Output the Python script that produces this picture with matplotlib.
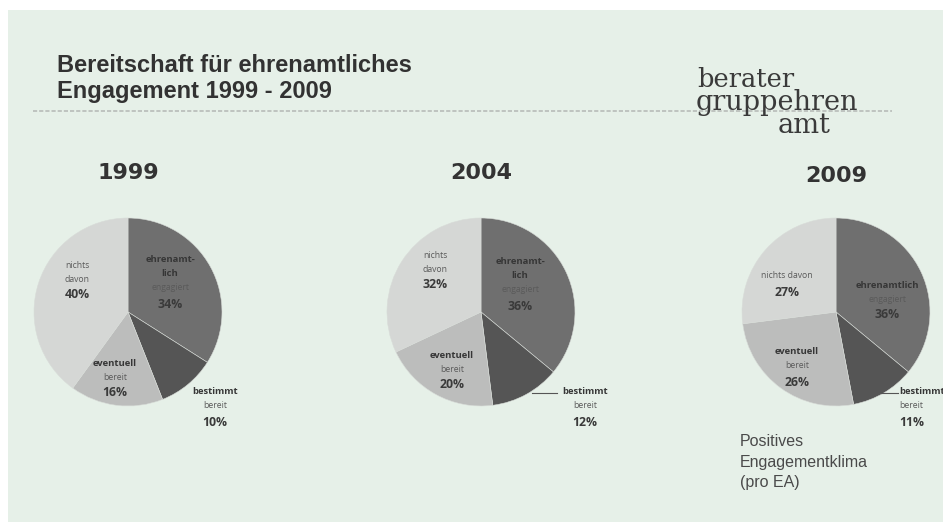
import matplotlib
matplotlib.use("Agg")
import matplotlib.pyplot as plt
from matplotlib.patches import Rectangle

# ----------------------------------------------------------
# Daten
# ----------------------------------------------------------
years = ['1999', '2004', '2009']
categories = ['ehrenamtlich engagiert', 'bestimmt bereit', 'eventuell bereit', 'nichts davon']
values_1999 = [34, 10, 16, 40]
values_2004 = [36, 12, 20, 32]
values_2009 = [36, 11, 26, 27]
all_values = [values_1999, values_2004, values_2009]

wedge_colors = ['#6f6f6f', '#555555', '#bcbdbc', '#d5d7d5']

# Beschriftung der Segmente (Zeilen, fett?)
lines_ehren = [[('ehrenamt-', True), ('lich', True), ('engagiert', False)],
               [('ehrenamt-', True), ('lich', True), ('engagiert', False)],
               [('ehrenamtlich', True), ('engagiert', False)]]
lines_bestimmt = [[('bestimmt', True), ('bereit', False)]] * 3
lines_eventuell = [[('eventuell', True), ('bereit', False)]] * 3
lines_nichts = [[('nichts', False), ('davon', False)],
                [('nichts', False), ('davon', False)],
                [('nichts davon', False)]]

# ----------------------------------------------------------
# Layout (Pixel, y von oben gezählt)
# ----------------------------------------------------------
W, H = 943, 522
centers = [(128, 312), (481, 312), (836, 312)]
radius = 94
year_pos = [(128, 173), (481, 173), (836, 176)]
# Position der ersten Zeile jedes Labels relativ zum Mittelpunkt
label_offsets = [
    [(42, -52), (87, 80), (-13, 51), (-51, -47)],
    [(39, -50), (104, 80), (-29, 43), (-46, -57)],
    [(51, -27), (63, 80), (-39, 40), (-49, -36)],
]
bestimmt_align = ['center', 'center', 'left']
leaders = [None, (532, 557, 393), (852, 898, 393)]


def fy(y):
    # Pixel von oben -> Datenkoordinate (y nach oben)
    return H - y


fig = plt.figure(figsize=(W / 100, H / 100), dpi=100)
fig.patch.set_facecolor('white')
ax = fig.add_axes([0, 0, 1, 1])
ax.set_axis_off()

# Folienhintergrund
ax.add_patch(Rectangle((8, 0), W, fy(10), facecolor='#e6f0e8', edgecolor='none', zorder=0))

# Titel
ax.text(57, fy(72), 'Bereitschaft für ehrenamtliches', fontsize=17, fontweight='bold',
        color='#323232', family=['Liberation Sans'], va='baseline')
ax.text(57, fy(98), 'Engagement 1999 - 2009', fontsize=17, fontweight='bold',
        color='#323232', family=['Liberation Sans'], va='baseline')
ax.plot([33, 892], [fy(111), fy(111)], color='#b8bcb8', lw=1.2, linestyle=(0, (2.5, 1.2)), zorder=1)

# Logo
logo_font = ['DejaVu Serif']
ax.text(697, fy(87), 'berater', fontsize=18.5, color='#3a3a3a', family=logo_font, va='baseline', zorder=3)
ax.text(696, fy(110), 'gruppehren', fontsize=19.5, color='#3a3a3a', family=logo_font, va='baseline', zorder=3)
ax.text(778, fy(133), 'amt', fontsize=19.5, color='#3a3a3a', family=logo_font, va='baseline', zorder=3)

label_font = ['Open Sans', 'DejaVu Sans']


def draw_label(x, y, lines, pct, ha='center'):
    yy = y
    for txt, bold in lines:
        ax.text(x, fy(yy), txt, fontsize=6.8 if bold else 6.2, fontweight='bold' if bold else 'normal',
                color='#363636' if bold else '#5a5a5a', family=label_font,
                ha=ha, va='center', zorder=5)
        yy += 14
    ax.text(x, fy(yy + 2), pct, fontsize=8.8, fontweight='bold', color='#3a3a3a',
            family=label_font, ha=ha, va='center', zorder=5)


for i, vals in enumerate(all_values):
    cx, cy = centers[i]
    ax.pie(vals, colors=wedge_colors, startangle=90, counterclock=False,
           center=(cx, fy(cy)), radius=radius,
           wedgeprops=dict(edgecolor='#d8dcd8', linewidth=0.4))
    ax.text(year_pos[i][0], fy(year_pos[i][1]), years[i], fontsize=16, fontweight='bold',
            color='#333333', ha='center', va='center', family=['DejaVu Sans'])

    seg_lines = [lines_ehren[i], lines_bestimmt[i], lines_eventuell[i], lines_nichts[i]]
    for j in range(4):
        dx, dy = label_offsets[i][j]
        ha = bestimmt_align[i] if j == 1 else 'center'
        draw_label(cx + dx, cy + dy, seg_lines[j], f'{vals[j]}%', ha=ha)
    if leaders[i] is not None:
        x0, x1, yl = leaders[i]
        ax.plot([x0, x1], [fy(yl), fy(yl)], color='#555555', lw=0.8, zorder=4)

ax.text(740, fy(442), 'Positives', fontsize=11.5, color='#4a4a4a', family=['Liberation Sans'], va='center')
ax.text(740, fy(462), 'Engagementklima', fontsize=11.5, color='#4a4a4a', family=['Liberation Sans'], va='center')
ax.text(740, fy(482), '(pro EA)', fontsize=11.5, color='#4a4a4a', family=['Liberation Sans'], va='center')

ax.set_xlim(0, W)
ax.set_ylim(0, H)
ax.set_aspect('auto')

fig.savefig('out.png', dpi=100, facecolor=fig.get_facecolor())
